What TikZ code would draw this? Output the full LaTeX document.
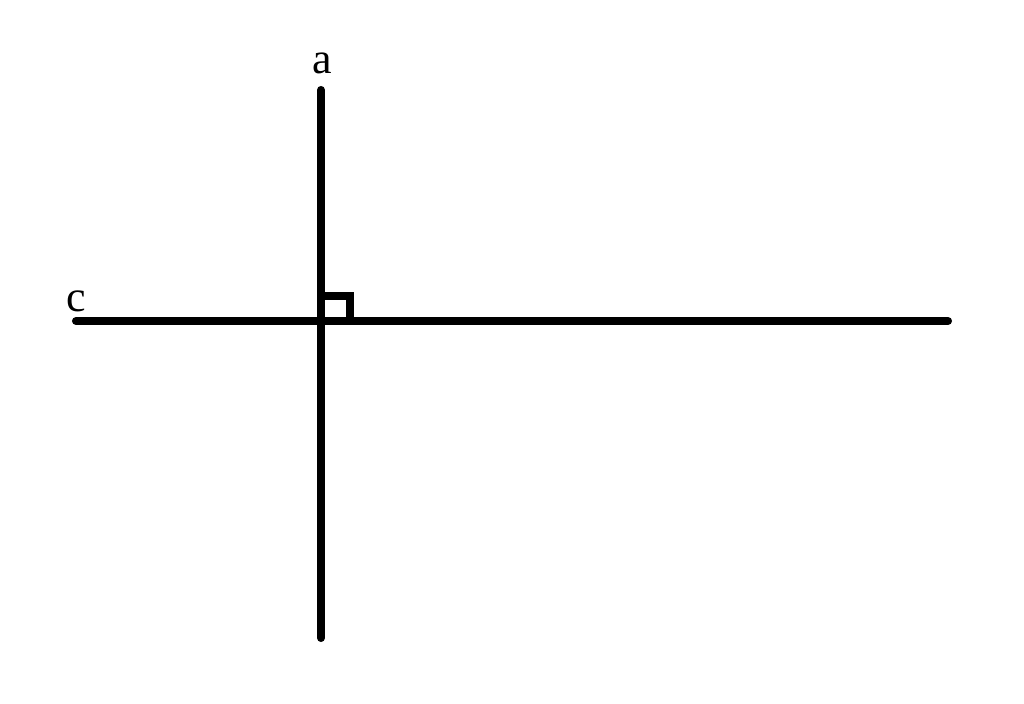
\documentclass[tikz,border=0pt]{standalone}
\usepackage{fontspec}
\setmainfont{Liberation Serif}
\usepackage{tikz}
\usetikzlibrary{positioning,calc}

\begin{document}
\begin{tikzpicture}[
    line/.style={line width=2.3pt, line cap=round},
    anglemark/.style={line width=2.1pt},
    label/.style={font=\fontsize{12.5}{15}\selectfont, inner sep=0pt}
]
\useasboundingbox (0,0) rectangle (10.24,7.04);

% === Lines ===
\coordinate (atop) at (3.21, 6.14);
\coordinate (abot) at (3.21, 0.66);
\coordinate (cleft) at (0.76, 3.83);
\coordinate (cright) at (9.48, 3.83);
\coordinate (foot) at (3.21, 3.83);

\draw[line] (atop) -- (abot);
\draw[line] (cleft) -- (cright);

% Right angle
\draw[anglemark] ($(foot)+(0,0.25)$) -- ($(foot)+(0.29,0.25)$) -- ($(foot)+(0.29,0)$);

% Labels
\node[label] (alabel) at (3.22, 6.41) {a};
\node[label] (clabel) at (0.76, 4.03) {c};
\end{tikzpicture}
\end{document}
